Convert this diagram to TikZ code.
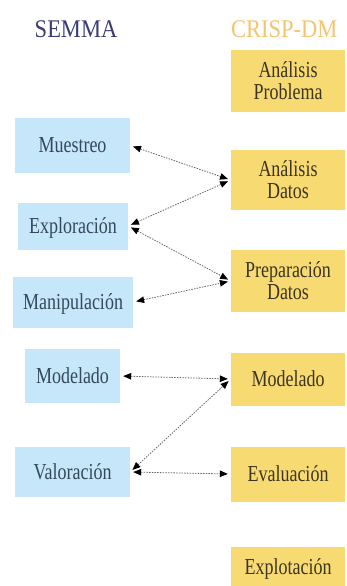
\documentclass[tikz,border=0pt]{standalone}
\usepackage{fontspec}
\usepackage{graphicx}
\setmainfont{Liberation Serif}
\usetikzlibrary{arrows.meta}
\definecolor{semmablue}{HTML}{C6E6F9}
\definecolor{crispyellow}{HTML}{F8DA72}
\definecolor{semmatitle}{HTML}{3B3B78}
\definecolor{crisptitle}{HTML}{F5C46E}
\definecolor{semmatext}{HTML}{34495A}
\definecolor{crisptext}{HTML}{3B3522}
% labels are set in a slightly tall, narrow letterform, optically centred
\newcommand{\tallstack}[1]{\raisebox{-3pt}[\height][\depth]{\scalebox{1}[1.27]{\begin{tabular}{@{}c@{}}#1\end{tabular}}}}
\newcommand{\talltitle}[1]{\scalebox{1}[1.13]{#1}}
\tikzset{
  semmabox/.style={fill=semmablue, text=semmatext, inner sep=0pt,
    font=\fontsize{18}{17.4}\selectfont},
  crispbox/.style={fill=crispyellow, text=crisptext, inner sep=0pt,
    minimum width=114pt, font=\fontsize{18}{17.4}\selectfont},
  title/.style={font=\fontsize{22.5}{26}\selectfont, inner sep=0pt},
  link/.style={draw=black!60, line width=0.8pt, dash pattern=on 1.5pt off 1.2pt,
    {Triangle[black,length=8pt,width=6.5pt]}-{Triangle[black,length=8pt,width=6.5pt]},
    shorten <=3pt, shorten >=3pt}
}
\begin{document}
\begin{tikzpicture}[x=1pt,y=-1pt]
\useasboundingbox (0,0) rectangle (347,586);
% column titles
\node[title, text=semmatitle] (tsemma) at (76,29) {\talltitle{SEMMA}};
\node[title, text=crisptitle, anchor=west] (tcrisp) at (231,29) {\talltitle{CRISP-DM}};
% CRISP-DM phases
\node[crispbox, minimum height=62pt] (ap) at (288,81) {\tallstack{Análisis\\Problema}};
\node[crispbox, minimum height=60pt] (ad) at (288,180) {\tallstack{Análisis\\Datos}};
\node[crispbox, minimum height=62pt] (pd) at (288,281) {\tallstack{Preparación\\Datos}};
\node[crispbox, minimum height=53pt] (mc) at (288,379) {\tallstack{Modelado}};
\node[crispbox, minimum height=55pt] (ev) at (288,474) {\tallstack{Evaluación}};
\node[crispbox, minimum height=40pt] (ex) at (288,567) {\tallstack{Explotación}};
% SEMMA phases
\node[semmabox, minimum width=115pt, minimum height=55pt] (mu) at (72.5,145.5) {\tallstack{Muestreo}};
\node[semmabox, minimum width=110pt, minimum height=47pt] (ep) at (73,226) {\tallstack{Exploración}};
\node[semmabox, minimum width=120pt, minimum height=51pt] (ma) at (73,302) {\tallstack{Manipulación}};
\node[semmabox, minimum width=95pt, minimum height=54pt] (ms) at (72.5,376) {\tallstack{Modelado}};
\node[semmabox, minimum width=115pt, minimum height=50pt] (va) at (72.5,472) {\tallstack{Valoración}};
% correspondences
\draw[link] (mu.east) -- (ad.west);
\draw[link] (ep.east) -- (ad.west);
\draw[link] (ep.east) -- (pd.west);
\draw[link] (ma.east) -- (pd.west);
\draw[link] (ms.east) -- (mc.west);
\draw[link] (va.east) -- (mc.west);
\draw[link] (va.east) -- (ev.west);
\end{tikzpicture}
\end{document}
